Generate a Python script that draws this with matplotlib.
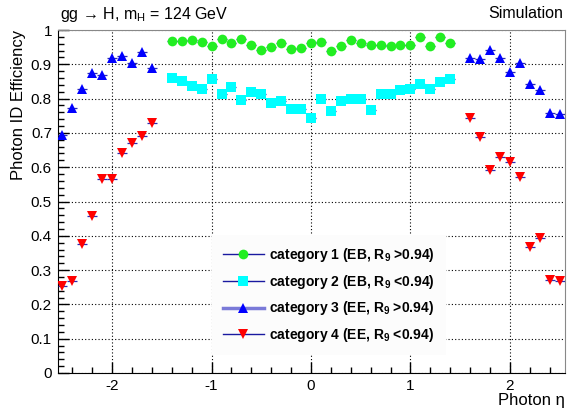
import numpy as np
import matplotlib
matplotlib.use("Agg")
import matplotlib.pyplot as plt
from matplotlib.lines import Line2D
from matplotlib.ticker import MultipleLocator

plt.rcParams['font.family'] = ['Liberation Sans', 'DejaVu Sans']
plt.rcParams['mathtext.fontset'] = 'custom'
plt.rcParams['mathtext.rm'] = 'Liberation Sans'
plt.rcParams['mathtext.bf'] = 'Liberation Sans:bold'
plt.rcParams['axes.unicode_minus'] = False

# Barrel bins (|eta| < 1.44)
eta_eb = [-1.4, -1.3, -1.2, -1.1, -1.0, -0.9, -0.8, -0.7, -0.6, -0.5,
          -0.4, -0.3, -0.2, -0.1, 0.0, 0.1, 0.2, 0.3, 0.4, 0.5,
          0.6, 0.7, 0.8, 0.9, 1.0, 1.1, 1.2, 1.3, 1.4]
# Endcap bins (1.57 < |eta| < 2.5)
eta_ee = [-2.5, -2.4, -2.3, -2.2, -2.1, -2.0, -1.9, -1.8, -1.7, -1.6,
          1.6, 1.7, 1.8, 1.9, 2.0, 2.1, 2.2, 2.3, 2.4, 2.5]

eff_cat1 = [0.968, 0.969, 0.972, 0.965, 0.952, 0.973, 0.963, 0.974, 0.955, 0.942,
            0.951, 0.961, 0.946, 0.947, 0.961, 0.965, 0.939, 0.953, 0.971, 0.961,
            0.956, 0.956, 0.953, 0.955, 0.957, 0.979, 0.952, 0.979, 0.961]
eff_cat2 = [0.860, 0.852, 0.836, 0.828, 0.857, 0.813, 0.835, 0.796, 0.820, 0.813,
            0.786, 0.794, 0.770, 0.769, 0.744, 0.799, 0.765, 0.794, 0.799, 0.799,
            0.767, 0.813, 0.813, 0.825, 0.828, 0.842, 0.828, 0.849, 0.857]
eff_cat3 = [0.694, 0.774, 0.828, 0.874, 0.869, 0.917, 0.925, 0.905, 0.935, 0.888,
            0.919, 0.915, 0.942, 0.919, 0.878, 0.903, 0.843, 0.825, 0.757, 0.754]
eff_cat4 = [0.254, 0.269, 0.376, 0.458, 0.565, 0.566, 0.642, 0.670, 0.692, 0.730,
            0.743, 0.689, 0.592, 0.631, 0.616, 0.571, 0.368, 0.393, 0.271, 0.269]

labels = [r'category 1 (EB, R$_\mathbf{9}$ >0.94)',
          r'category 2 (EB, R$_\mathbf{9}$ <0.94)',
          r'category 3 (EE, R$_\mathbf{9}$ >0.94)',
          r'category 4 (EE, R$_\mathbf{9}$ <0.94)']
ytick_labels = ['0', '0.1', '0.2', '0.3', '0.4', '0.5', '0.6', '0.7', '0.8', '0.9', '1']

err_col = '#2b2bb5'
series = [
    (eta_eb, eff_cat1, 'o', '#22ee22', 7.0),
    (eta_eb, eff_cat2, 's', '#00ffff', 7.0),
    (eta_ee, eff_cat3, '^', '#0000ff', 7.5),
    (eta_ee, eff_cat4, 'v', '#ff0000', 7.5),
]

fig = plt.figure(figsize=(5.68, 4.12), dpi=100)
ax = fig.add_axes([57.5 / 568, 39 / 412, 507 / 568, 343 / 412])

for x, y, mk, col, ms in series:
    ax.errorbar(x, y, xerr=0.05, yerr=0.004, fmt=mk, color=err_col, ecolor=err_col,
                elinewidth=0.9, capsize=0, mfc=col, mec=col, mew=0, ms=ms, zorder=3)

ax.set_xlim(-2.55, 2.55)
ax.set_ylim(0, 1)
ax.xaxis.set_major_locator(MultipleLocator(1))
ax.xaxis.set_minor_locator(MultipleLocator(0.2))
ax.yaxis.set_minor_locator(MultipleLocator(0.02))
ax.set_yticks(np.arange(0, 1.01, 0.1))
ax.set_yticklabels(ytick_labels)
ax.tick_params(which='both', direction='in', top=False, right=False, labelsize=11, pad=4)
ax.tick_params(which='major', length=8, width=1)
ax.tick_params(which='minor', length=4, width=1)

ax.grid(True, which='major', color='black', linestyle=(0, (1, 2)), linewidth=0.8)
ax.set_axisbelow(True)
for side in ['top', 'right']:
    ax.spines[side].set_color('#888888')
for side in ['left', 'bottom']:
    ax.spines[side].set_color('black')

ax.set_ylabel('Photon ID Efficiency', fontsize=12, loc='top')
ax.yaxis.set_label_coords(-0.062, 1.0)
ax.set_xlabel('Photon η', fontsize=12, loc='right')
ax.xaxis.set_label_coords(1.0, -0.058)

fig.text(60 / 568, 1 - 14 / 412, 'gg → H, m$_\\mathrm{H}$ = 124 GeV', fontsize=11.5, va='center')
fig.text(563 / 568, 1 - 14 / 412, 'Simulation', fontsize=11.5, va='center', ha='right')

handles = []
for x, y, mk, col, ms in series:
    lw = 2.5 if mk == '^' else 1.0
    lc = '#7a7ad8' if mk == '^' else '#1a1aa0'
    handles.append(Line2D([0], [0], color=lc, lw=lw, marker=mk, mfc=col, mec=col, mew=0, ms=ms))
leg = ax.legend(handles, labels, loc='lower left', bbox_to_anchor=(0.305, 0.052),
                prop={'weight': 'bold', 'size': 10}, handlelength=2.9, labelspacing=0.62,
                frameon=True, facecolor='#fcfcfc', edgecolor='none', framealpha=1,
                fancybox=False, borderpad=0.8, borderaxespad=0, handletextpad=0.4)

fig.savefig('out.png', dpi=100)
